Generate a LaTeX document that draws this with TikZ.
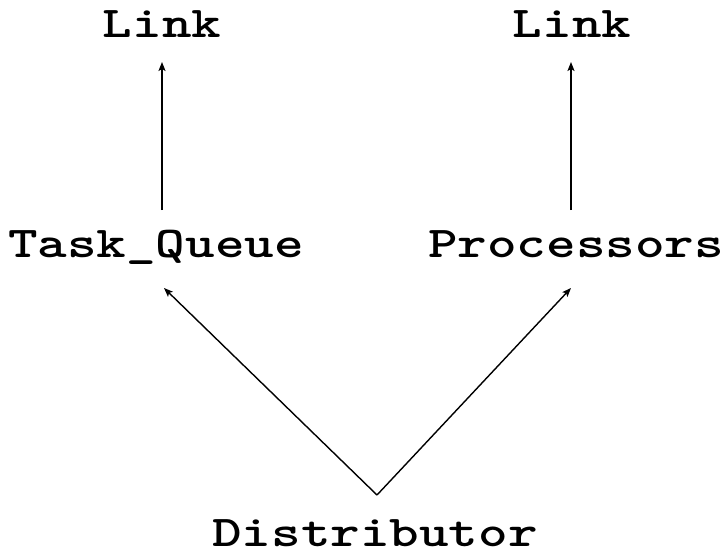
\documentclass[tikz,border=0pt]{standalone}
\usepackage{graphicx}
\usetikzlibrary{arrows.meta,calc}
\newcommand{\lbltext}[1]{\scalebox{1.28}[1]{\ttfamily\bfseries\fontsize{44}{48}\selectfont #1}}
\begin{document}
\begin{tikzpicture}[x=1pt,y=-1pt,
  lbl/.style={inner sep=0pt, anchor=base},
  arr/.style={line width=1.4pt, -{Stealth[length=9pt,width=7pt,inset=2pt]}}]
\fill[white] (0,0) rectangle (724,552);
\useasboundingbox (0,0) rectangle (724,552);
\node[lbl] (link1) at (162,37) {\lbltext{Link}};
\node[lbl] (link2) at (572,37) {\lbltext{Link}};
\node[lbl] (tq) at (156,257) {\lbltext{Task\_Queue}};
\node[lbl] (proc) at (576,257) {\lbltext{Processors}};
\node[lbl] (dist) at (375,546) {\lbltext{Distributor}};
\draw[arr] ($(link1.base)+(0,173)$) -- ($(link1.base)+(0,25)$);
\draw[arr] ($(link2.base)+(-1,173)$) -- ($(link2.base)+(-1,25)$);
\draw[arr] ($(dist.base)+(2,-51)$) -- ($(tq.base)+(8,31)$);
\draw[arr] ($(dist.base)+(2,-51)$) -- ($(proc.base)+(-5,31)$);
\end{tikzpicture}
\end{document}
